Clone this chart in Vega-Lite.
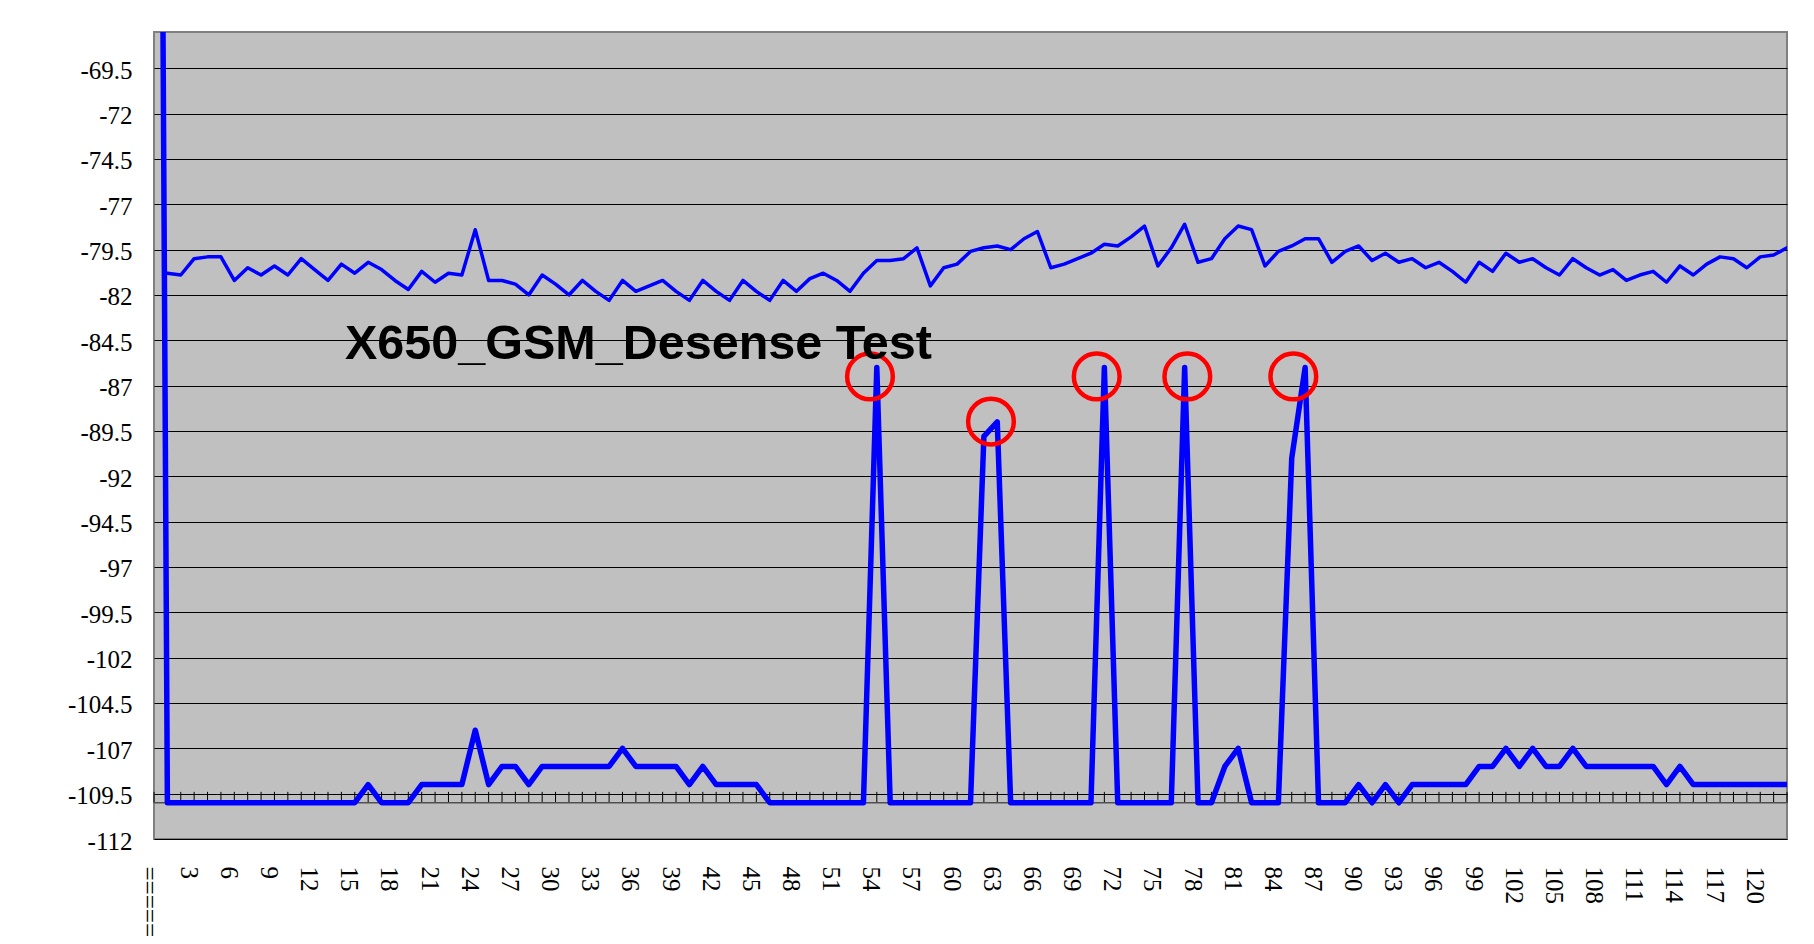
{
  "$schema": "https://vega.github.io/schema/vega-lite/v6.json",
  "width": 1633,
  "height": 807,
  "autosize": {"type": "none"},
  "padding": {"left": 154, "top": 32, "right": 27, "bottom": 105},
  "background": "white",
  "config": {"view": {"fill": "#c0c0c0", "stroke": "#808080", "strokeWidth": 2}},
  "datasets": {
    "series": [
      {"k":0,"u":null,"l":20},{"k":1,"u":-80.8,"l":-110},{"k":2,"u":-80.9,"l":-110},{"k":3,"u":-80.0,"l":-110},{"k":4,"u":-79.9,"l":-110},{"k":5,"u":-79.9,"l":-110},{"k":6,"u":-81.2,"l":-110},{"k":7,"u":-80.5,"l":-110},{"k":8,"u":-80.9,"l":-110},{"k":9,"u":-80.4,"l":-110},{"k":10,"u":-80.9,"l":-110},
      {"k":11,"u":-80.0,"l":-110},{"k":12,"u":-80.6,"l":-110},{"k":13,"u":-81.2,"l":-110},{"k":14,"u":-80.3,"l":-110},{"k":15,"u":-80.8,"l":-110},{"k":16,"u":-80.2,"l":-109},{"k":17,"u":-80.6,"l":-110},{"k":18,"u":-81.2,"l":-110},{"k":19,"u":-81.7,"l":-110},{"k":20,"u":-80.7,"l":-109},
      {"k":21,"u":-81.3,"l":-109},{"k":22,"u":-80.8,"l":-109},{"k":23,"u":-80.9,"l":-109},{"k":24,"u":-78.4,"l":-106},{"k":25,"u":-81.2,"l":-109},{"k":26,"u":-81.2,"l":-108},{"k":27,"u":-81.4,"l":-108},{"k":28,"u":-82.0,"l":-109},{"k":29,"u":-80.9,"l":-108},{"k":30,"u":-81.4,"l":-108},
      {"k":31,"u":-82.0,"l":-108},{"k":32,"u":-81.2,"l":-108},{"k":33,"u":-81.8,"l":-108},{"k":34,"u":-82.3,"l":-108},{"k":35,"u":-81.2,"l":-107},{"k":36,"u":-81.8,"l":-108},{"k":37,"u":-81.5,"l":-108},{"k":38,"u":-81.2,"l":-108},{"k":39,"u":-81.8,"l":-108},{"k":40,"u":-82.3,"l":-109},
      {"k":41,"u":-81.2,"l":-108},{"k":42,"u":-81.8,"l":-109},{"k":43,"u":-82.3,"l":-109},{"k":44,"u":-81.2,"l":-109},{"k":45,"u":-81.8,"l":-109},{"k":46,"u":-82.3,"l":-110},{"k":47,"u":-81.2,"l":-110},{"k":48,"u":-81.8,"l":-110},{"k":49,"u":-81.1,"l":-110},{"k":50,"u":-80.8,"l":-110},
      {"k":51,"u":-81.2,"l":-110},{"k":52,"u":-81.8,"l":-110},{"k":53,"u":-80.8,"l":-110},{"k":54,"u":-80.1,"l":-86},{"k":55,"u":-80.1,"l":-110},{"k":56,"u":-80.0,"l":-110},{"k":57,"u":-79.4,"l":-110},{"k":58,"u":-81.5,"l":-110},{"k":59,"u":-80.5,"l":-110},{"k":60,"u":-80.3,"l":-110},
      {"k":61,"u":-79.6,"l":-110},{"k":62,"u":-79.4,"l":-89.8},{"k":63,"u":-79.3,"l":-89},{"k":64,"u":-79.5,"l":-110},{"k":65,"u":-78.9,"l":-110},{"k":66,"u":-78.5,"l":-110},{"k":67,"u":-80.5,"l":-110},{"k":68,"u":-80.3,"l":-110},{"k":69,"u":-80.0,"l":-110},{"k":70,"u":-79.7,"l":-110},
      {"k":71,"u":-79.2,"l":-86},{"k":72,"u":-79.3,"l":-110},{"k":73,"u":-78.8,"l":-110},{"k":74,"u":-78.2,"l":-110},{"k":75,"u":-80.4,"l":-110},{"k":76,"u":-79.4,"l":-110},{"k":77,"u":-78.1,"l":-86},{"k":78,"u":-80.2,"l":-110},{"k":79,"u":-80.0,"l":-110},{"k":80,"u":-78.9,"l":-108},
      {"k":81,"u":-78.2,"l":-107},{"k":82,"u":-78.4,"l":-110},{"k":83,"u":-80.4,"l":-110},{"k":84,"u":-79.6,"l":-110},{"k":85,"u":-79.3,"l":-91},{"k":86,"u":-78.9,"l":-86},{"k":87,"u":-78.9,"l":-110},{"k":88,"u":-80.2,"l":-110},{"k":89,"u":-79.6,"l":-110},{"k":90,"u":-79.3,"l":-109},
      {"k":91,"u":-80.1,"l":-110},{"k":92,"u":-79.7,"l":-109},{"k":93,"u":-80.2,"l":-110},{"k":94,"u":-80.0,"l":-109},{"k":95,"u":-80.5,"l":-109},{"k":96,"u":-80.2,"l":-109},{"k":97,"u":-80.7,"l":-109},{"k":98,"u":-81.3,"l":-109},{"k":99,"u":-80.2,"l":-108},{"k":100,"u":-80.7,"l":-108},
      {"k":101,"u":-79.7,"l":-107},{"k":102,"u":-80.2,"l":-108},{"k":103,"u":-80.0,"l":-107},{"k":104,"u":-80.5,"l":-108},{"k":105,"u":-80.9,"l":-108},{"k":106,"u":-80.0,"l":-107},{"k":107,"u":-80.5,"l":-108},{"k":108,"u":-80.9,"l":-108},{"k":109,"u":-80.6,"l":-108},{"k":110,"u":-81.2,"l":-108},
      {"k":111,"u":-80.9,"l":-108},{"k":112,"u":-80.7,"l":-108},{"k":113,"u":-81.3,"l":-109},{"k":114,"u":-80.4,"l":-108},{"k":115,"u":-80.9,"l":-109},{"k":116,"u":-80.3,"l":-109},{"k":117,"u":-79.9,"l":-109},{"k":118,"u":-80.0,"l":-109},{"k":119,"u":-80.5,"l":-109},{"k":120,"u":-79.9,"l":-109},
      {"k":121,"u":-79.8,"l":-109},{"k":122,"u":-79.4,"l":-109}
    ],
    "circles": [
      {"k":53.49,"v":-86.49},{"k":62.53,"v":-88.98},{"k":70.43,"v":-86.49},{"k":77.2,"v":-86.49},{"k":85.12,"v":-86.49}
    ]
  },
  "encoding": {
    "x": {"field": "k", "type": "quantitative", "scale": {"domain": [0, 122], "nice": false, "zero": false},
      "axis": {"values": [0,3,6,9,12,15,18,21,24,27,30,33,36,39,42,45,48,51,54,57,60,63,66,69,72,75,78,81,84,87,90,93,96,99,102,105,108,111,114,117,120],
        "labelExpr": "datum.value == 0 ? '=====' : '' + datum.value",
        "labelAngle": 90, "labelAlign": "left", "labelBaseline": "middle", "labelOffset": -6,
        "labelFont": "'Liberation Serif', 'DejaVu Serif', serif", "labelFontSize": 25, "labelColor": "black", "labelPadding": 27,
        "labelOverlap": false, "labelFlush": false, "domain": false, "ticks": false, "grid": false, "title": null}}
  },
  "layer": [
    {
      "data": {"name": "series"},
      "mark": {"type": "line", "color": "#0000ff", "strokeWidth": 3.5, "strokeJoin": "round", "strokeCap": "round", "clip": true},
      "encoding": {
        "y": {"field": "u", "type": "quantitative", "scale": {"domain": [-112, -67.5], "nice": false, "zero": false},
          "axis": {"values": [-112,-109.5,-107,-104.5,-102,-99.5,-97,-94.5,-92,-89.5,-87,-84.5,-82,-79.5,-77,-74.5,-72,-69.5],
            "labelExpr": "'' + datum.value",
            "labelFont": "'Liberation Serif', 'DejaVu Serif', serif", "labelFontSize": 25, "labelColor": "black", "labelPadding": 22, "labelOffset": 2,
            "labelOverlap": false, "labelFlush": false, "domain": false, "ticks": false,
            "grid": true, "gridColor": "black", "gridWidth": 1, "gridOpacity": 1, "title": null}}
      }
    },
    {
      "data": {"name": "series"},
      "mark": {"type": "rule", "color": "black", "strokeWidth": 1},
      "encoding": {
        "y": {"datum": -110, "type": "quantitative", "title": null},
        "y2": {"datum": -109.4}
      }
    },
    {
      "data": {"name": "series"},
      "mark": {"type": "line", "color": "#505050", "strokeWidth": 1.5},
      "encoding": {
        "y": {"datum": -110, "type": "quantitative", "title": null}
      }
    },
    {
      "data": {"name": "series"},
      "mark": {"type": "line", "color": "#0000ff", "strokeWidth": 5.5, "strokeJoin": "round", "strokeCap": "round", "clip": true},
      "encoding": {
        "y": {"field": "l", "type": "quantitative", "title": null}
      }
    },
    {
      "data": {"name": "circles"},
      "mark": {"type": "point", "shape": "circle", "filled": false, "stroke": "#ff0000", "strokeWidth": 4.5, "size": 2090, "opacity": 1},
      "encoding": {
        "y": {"field": "v", "type": "quantitative", "title": null}
      }
    },
    {
      "data": {"values": [{"k": 14.27}]},
      "mark": {"type": "text", "text": "X650_GSM_Desense Test", "font": "Liberation Sans", "fontWeight": "bold", "fontSize": 48.5, "color": "black", "align": "left", "baseline": "alphabetic"},
      "encoding": {
        "y": {"datum": -85.53, "type": "quantitative", "title": null}
      }
    }
  ]
}
